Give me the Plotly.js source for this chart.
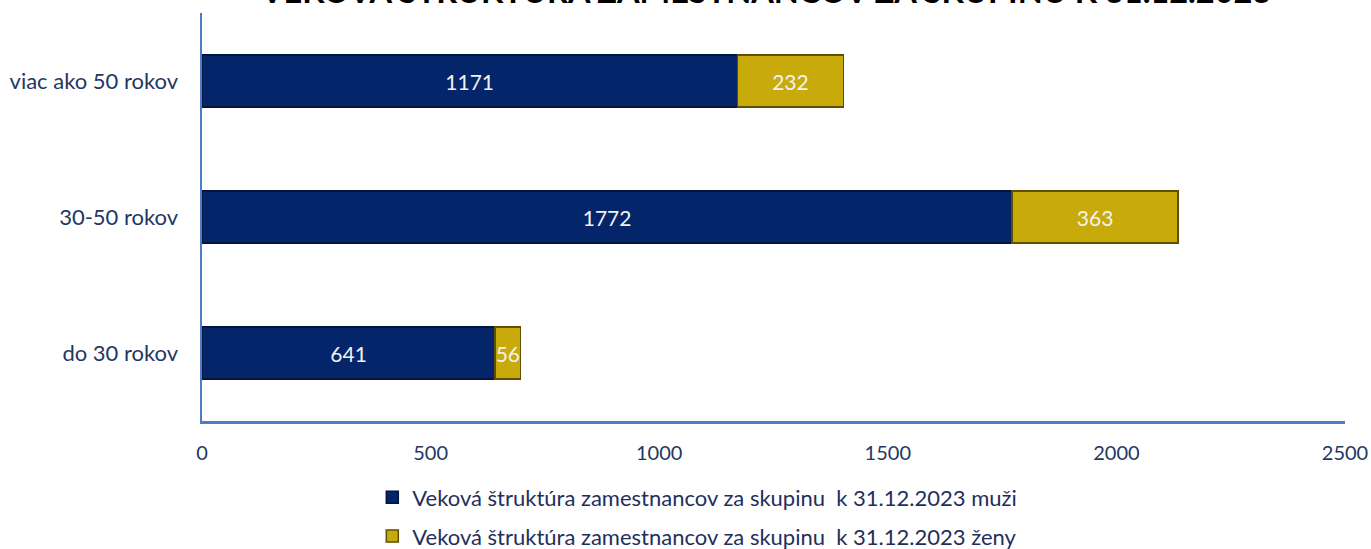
<!DOCTYPE html>
<html>
<head>
<meta charset="utf-8">
<script src="https://cdn.plot.ly/plotly-3.0.1.min.js"></script>
<style>html,body{margin:0;padding:0;background:#fff;}#chart{width:1371px;height:549px;}</style>
</head>
<body>
<div id="chart"></div>
<script>
var categories = ['do 30 rokov', '30-50 rokov', 'viac ako 50 rokov'];
var muzi = [641, 1772, 1171];
var zeny = [56, 363, 232];
var seriesNames = ['Veková štruktúra zamestnancov za skupinu  k 31.12.2023 muži',
                   'Veková štruktúra zamestnancov za skupinu  k 31.12.2023 ženy'];
var xTicks = [0, 500, 1000, 1500, 2000, 2500];
var titleText = 'VEKOVÁ ŠTRUKTÚRA ZAMESTNANCOV ZA SKUPINU K 31.12.2023';

var fontFam = 'Lato, "Open Sans", sans-serif';

var traces = [
  {
    type: 'bar', orientation: 'h', name: seriesNames[0], legendgroup: 'm',
    y: categories, x: muzi,
    text: muzi.map(String), textposition: 'inside', insidetextanchor: 'middle',
    constraintext: 'none',
    textfont: {color: '#F2F2F2', size: 21, family: fontFam},
    marker: {color: '#05256B', line: {color: '#02153F', width: 1.5}},
    width: 0.38, hoverinfo: 'x+name'
  },
  {
    type: 'bar', orientation: 'h', name: seriesNames[1], legendgroup: 'z',
    y: categories, x: zeny,
    text: zeny.map(String), textposition: 'inside', insidetextanchor: 'middle',
    constraintext: 'none',
    textfont: {color: '#F2F2F2', size: 21, family: fontFam},
    marker: {color: '#C9AA0B', line: {color: '#5E4F05', width: 1.5}},
    width: 0.38, hoverinfo: 'x+name'
  }
];

var layout = {
  width: 1371, height: 549,
  paper_bgcolor: '#ffffff', plot_bgcolor: '#ffffff',
  barmode: 'stack',
  margin: {l: 202, r: 26, t: 13, b: 128, autoexpand: false},
  font: {family: fontFam, color: '#1F2F5C'},
  annotations: [{
    text: '<b>' + titleText + '</b>',
    font: {size: 32.5, color: '#000000', family: fontFam},
    xref: 'paper', x: 0.4934, xanchor: 'center',
    yref: 'paper', y: 1.056, yanchor: 'middle',
    showarrow: false
  }],
  xaxis: {
    range: [0, 2500], tickvals: xTicks, ticktext: xTicks.map(String),
    showgrid: false, zeroline: false,
    showline: true, linecolor: '#4F7DC4', linewidth: 2.5,
    ticks: 'outside', ticklen: 12, tickcolor: 'rgba(0,0,0,0)',
    tickfont: {size: 20, color: '#1F3763', family: fontFam},
    fixedrange: true, automargin: false
  },
  yaxis: {
    type: 'category', categoryorder: 'array', categoryarray: categories,
    range: [-0.5, 2.5],
    showgrid: false, zeroline: false,
    showline: true, linecolor: '#4F7DC4', linewidth: 2.5,
    ticks: 'outside', ticklen: 17, tickcolor: 'rgba(0,0,0,0)',
    tickfont: {size: 22, color: '#1F3763', family: fontFam},
    fixedrange: true, automargin: false
  },
  showlegend: true,
  legend: {
    orientation: 'v', traceorder: 'grouped',
    x: 0.149, xanchor: 'left', xref: 'paper',
    y: 0.132, yanchor: 'top', yref: 'container',
    font: {size: 22, color: '#1F2F5C', family: fontFam},
    tracegroupgap: 7, itemwidth: 30
  }
};

Plotly.newPlot('chart', traces, layout, {displayModeBar: false, staticPlot: true});
</script>
</body>
</html>
